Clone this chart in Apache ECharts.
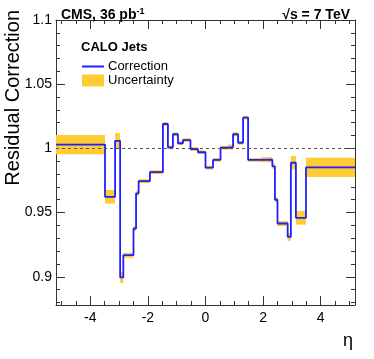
<!DOCTYPE html>
<html><head><meta charset="utf-8">
<script src="https://cdn.jsdelivr.net/npm/echarts@6/dist/echarts.min.js"></script>
<style>html,body{margin:0;padding:0;background:#fff}#c{width:374px;height:359px}</style>
</head><body><div id="c"></div>
<script>
const binEdges = [-5.191,-3.489,-3.139,-2.964,-2.853,-2.5,-2.411,-2.322,-1.93,-1.479,-1.305,-1.131,-0.957,-0.783,-0.522,-0.261,0,0.261,0.522,0.783,0.957,1.131,1.305,1.479,1.93,2.322,2.411,2.5,2.853,2.964,3.139,3.489,5.191];
const correction = [1.003,0.9623,1.0059,0.8995,0.9168,0.9376,0.965,0.9745,0.9815,1.019,1.0008,1.011,1.004,1.0065,0.9995,0.997,0.985,0.991,1.0005,1.001,1.011,1.0044,1.024,0.991,0.9912,0.986,0.960,0.9415,0.931,0.9888,0.9459,0.9852];
const uncertainty = [0.0075,0.0053,0.006,0.0043,0.002,0.002,0.002,0.0015,0.0015,0.0015,0.0015,0.0015,0.0015,0.0015,0.0015,0.0015,0.0015,0.0015,0.0015,0.002,0.0015,0.0015,0.0015,0.0015,0.002,0.002,0.002,0.002,0.003,0.0053,0.0053,0.0075];
const xMinorTicks = [-5,-4.5,-4,-3.5,-3,-2.5,-2,-1.5,-1,-0.5,0,0.5,1,1.5,2,2.5,3,3.5,4,4.5,5];
const xMajorTicks = [-4,-2,0,2,4];
const yMinorTicks = [0.88,0.89,0.9,0.91,0.92,0.93,0.94,0.95,0.96,0.97,0.98,0.99,1,1.01,1.02,1.03,1.04,1.05,1.06,1.07,1.08,1.09,1.1];
const yMajorTicks = [0.9,0.95,1,1.05,1.1];

const X_MIN = -5.191, X_MAX = 5.191, Y_MIN = 0.878, Y_MAX = 1.1;
const FONT = 'Liberation Sans, Arial, Helvetica, sans-serif';
const BLUE = '#1f1fff', YELLOW = '#ffcc33', AXIS = '#333';

const bandData = correction.map((v, i) => [binEdges[i], binEdges[i+1], v - uncertainty[i], v + uncertainty[i]]);
const lineData = binEdges.map((e, i) => [e, correction[Math.min(i, correction.length - 1)]]);

function xAx(pos, ticks, len, labels, showLine) {
  return {
    type: 'value', position: pos, min: X_MIN, max: X_MAX, gridIndex: 0,
    axisLine: {show: showLine, onZero: false, lineStyle: {color: AXIS, width: 1}},
    axisTick: {show: true, inside: true, length: len, customValues: ticks, lineStyle: {color: AXIS}},
    axisLabel: labels ? {show: true, customValues: xMajorTicks, color: '#000', fontSize: 14, fontFamily: FONT, margin: 6} : {show: false},
    splitLine: {show: false}
  };
}
function yAx(pos, ticks, len, labels, showLine) {
  return {
    type: 'value', position: pos, min: Y_MIN, max: Y_MAX, gridIndex: 0,
    axisLine: {show: showLine, onZero: false, lineStyle: {color: AXIS, width: 1}},
    axisTick: {show: true, inside: true, length: len, customValues: ticks, lineStyle: {color: AXIS}},
    axisLabel: labels ? {show: true, customValues: yMajorTicks, color: '#000', fontSize: 14, fontFamily: FONT, margin: 4,
      formatter: v => String(Math.round(v * 100) / 100)} : {show: false},
    splitLine: {show: false}
  };
}

const chart = echarts.init(document.getElementById('c'), null, {renderer: 'canvas'});
chart.setOption({
  animation: false,
  backgroundColor: '#fff',
  grid: {left: 56, right: 19, top: 20, bottom: 54, containLabel: false},
  title: [
    {text: '{b|CMS, 36 pb}{s|-1}', left: 56, top: 2, textStyle: {rich: {
      b: {fontSize: 14, fontWeight: 'bold', fontFamily: FONT, color: '#000'},
      s: {fontSize: 9, fontWeight: 'bold', fontFamily: FONT, color: '#000', padding: [0, 0, 8, 0]}}}},
    {text: '√s = 7 TeV', right: 19, top: 3, textStyle: {fontSize: 14, fontWeight: 'bold', fontFamily: FONT, color: '#000'}},
    {text: 'CALO Jets', left: 76, top: 36, textStyle: {fontSize: 13, fontWeight: 'bold', fontFamily: FONT, color: '#000'}}
  ],
  legend: [
    {data: ['Correction'], left: 77, top: 55, orient: 'vertical', icon: 'rect', itemWidth: 22, itemHeight: 2, itemGap: 4,
      textStyle: {fontSize: 13, fontFamily: FONT, color: '#000', padding: [0, 0, 0, -1]}, selectedMode: false},
    {data: ['Uncertainty'], left: 77, top: 69, orient: 'vertical', icon: 'rect', itemWidth: 22, itemHeight: 12, itemGap: 4,
      textStyle: {fontSize: 13, fontFamily: FONT, color: '#000', padding: [0, 0, 0, -1]}, selectedMode: false}
  ],
  xAxis: [
    xAx('bottom', xMinorTicks, 4, true, true),
    xAx('bottom', xMajorTicks, 9, false, false),
    xAx('top', xMinorTicks, 4, false, true),
    xAx('top', xMajorTicks, 9, false, false)
  ],
  yAxis: [
    yAx('left', yMinorTicks, 4, true, true),
    yAx('left', yMajorTicks, 9, false, false),
    yAx('right', yMinorTicks, 4, false, true),
    yAx('right', yMajorTicks, 9, false, false)
  ],
  graphic: [
    {type: 'text', x: 13, y: 10, rotation: Math.PI / 2, style: {text: 'Residual Correction', font: '20px ' + FONT, fill: '#000', textAlign: 'right', textVerticalAlign: 'middle'}},
    {type: 'text', x: 348, y: 341, style: {text: 'η', font: '18px ' + FONT, fill: '#000', textAlign: 'center', textVerticalAlign: 'middle'}}
  ],
  series: [
    {
      name: 'Uncertainty', type: 'custom', xAxisIndex: 0, yAxisIndex: 0, z: 2,
      itemStyle: {color: YELLOW},
      data: bandData,
      renderItem: function (params, api) {
        const p0 = api.coord([api.value(0), api.value(3)]);
        const p1 = api.coord([api.value(1), api.value(2)]);
        return {type: 'rect', shape: {x: p0[0], y: p0[1], width: p1[0] - p0[0], height: p1[1] - p0[1]}, style: {fill: YELLOW}};
      }
    },
    {
      name: 'Correction', type: 'line', xAxisIndex: 0, yAxisIndex: 0, z: 4, step: 'end',
      showSymbol: false, symbol: 'none', data: lineData,
      itemStyle: {color: BLUE},
      lineStyle: {color: BLUE, width: 1.8},
      markLine: {silent: true, symbol: ['none', 'none'], label: {show: false},
        lineStyle: {color: '#555', type: [3, 3], width: 1}, data: [{yAxis: 1}]}
    }
  ]
});
</script></body></html>
